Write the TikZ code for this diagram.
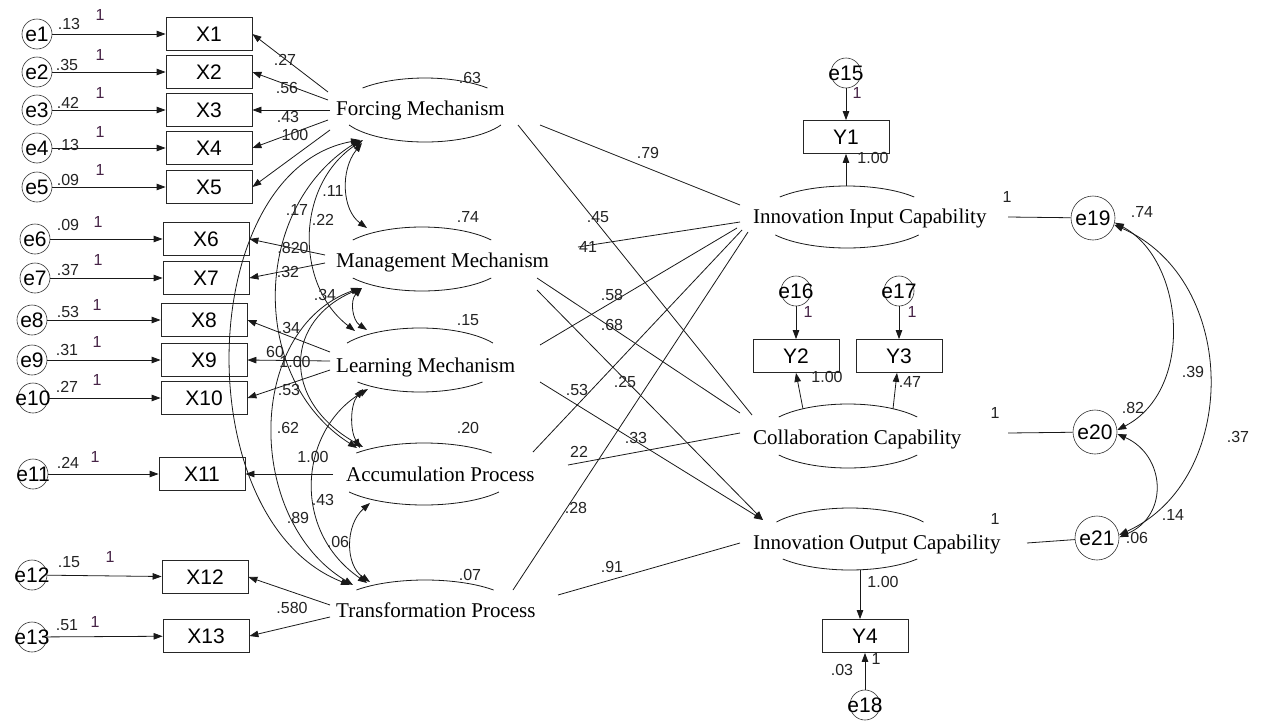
\documentclass[tikz,border=0pt]{standalone}
\usepackage{fontspec}
\setmainfont{Liberation Serif}
\newfontfamily\labfont{Liberation Sans}
\usetikzlibrary{arrows.meta,calc}
\definecolor{labc}{RGB}{35,35,35}
\definecolor{onec}{RGB}{70,35,70}
\tikzset{
  conn/.style={line width=0.8pt,draw=black!90},
  arr/.style={conn,-{Triangle[length=9pt,width=6.5pt]}},
  darr/.style={conn,{Triangle[length=9pt,width=6.5pt]}-{Triangle[length=9pt,width=6.5pt]}},
  errc/.style={circle,draw=black!80,line width=0.6pt,minimum size=30pt,inner sep=0pt},
  bige/.style={circle,draw=black!80,line width=0.6pt,minimum size=44pt,inner sep=0pt},
  etxt/.style={font=\labfont\fontsize{21}{21}\selectfont,inner sep=0pt},
  obs/.style={rectangle,draw=black!85,line width=0.8pt,minimum width=86pt,minimum height=33pt,inner sep=0pt,font=\labfont\fontsize{21}{21}\selectfont},
  lattxt/.style={font=\fontsize{21}{25}\selectfont,inner sep=0pt,anchor=base west},
  lab/.style={font=\labfont\fontsize{16}{16}\selectfont,inner sep=0pt,text=labc},
  one/.style={lab,text=onec},
}
\newcommand\lattop[4]{\pgfmathsetmacro\tsa{180-#4}%
  \draw[conn] ($(#1)+(\tsa:#2pt and #3pt)$) arc[start angle=\tsa,end angle=#4,x radius=#2pt,y radius=#3pt];}
\newcommand\latbot[4]{\pgfmathsetmacro\bsa{180+#4}\pgfmathsetmacro\bea{360-#4}%
  \draw[conn] ($(#1)+(\bsa:#2pt and #3pt)$) arc[start angle=\bsa,end angle=\bea,x radius=#2pt,y radius=#3pt];}
\begin{document}
\begin{tikzpicture}[x=1pt,y=-1pt]
\useasboundingbox[fill=white] (0,0) rectangle (1264,723);

% ---------- observed indicators ----------
\node[obs] (X1) at (209,34) {X1};
\node[obs] (X2) at (209,72) {X2};
\node[obs] (X3) at (209,110) {X3};
\node[obs] (X4) at (209,148) {X4};
\node[obs] (X5) at (209,187) {X5};
\node[obs] (X6) at (206,239) {X6};
\node[obs] (X7) at (206,278) {X7};
\node[obs] (X8) at (204,320) {X8};
\node[obs] (X9) at (204,360) {X9};
\node[obs] (X10) at (204,398) {X10};
\node[obs] (X11) at (202,474) {X11};
\node[obs] (X12) at (205,577) {X12};
\node[obs] (X13) at (206,636) {X13};
\node[obs] (Y1) at (846,137) {Y1};
\node[obs] (Y2) at (796,356) {Y2};
\node[obs] (Y3) at (899,356) {Y3};
\node[obs] (Y4) at (865,636) {Y4};

% ---------- error terms ----------
\node[errc,label={[etxt]center:e1}] (e1) at (37,34) {};
\node[errc,label={[etxt]center:e2}] (e2) at (37,72) {};
\node[errc,label={[etxt]center:e3}] (e3) at (37,110) {};
\node[errc,label={[etxt]center:e4}] (e4) at (37,148) {};
\node[errc,label={[etxt]center:e5}] (e5) at (37,187) {};
\node[errc,label={[etxt]center:e6}] (e6) at (35,239) {};
\node[errc,label={[etxt]center:e7}] (e7) at (35,278) {};
\node[errc,label={[etxt]center:e8}] (e8) at (32,320) {};
\node[errc,label={[etxt]center:e9}] (e9) at (32,360) {};
\node[errc,label={[etxt]center:e10}] (e10) at (33,398) {};
\node[errc,label={[etxt]center:e11}] (e11) at (33,474) {};
\node[errc,label={[etxt]center:e12}] (e12) at (32,575) {};
\node[errc,label={[etxt]center:e13}] (e13) at (32,637) {};
\node[errc,label={[etxt]center:e15}] (e15) at (846,73) {};
\node[errc,label={[etxt]center:e16}] (e16) at (796,291) {};
\node[errc,label={[etxt]center:e17}] (e17) at (899,291) {};
\node[errc,label={[etxt]center:e18}] (e18) at (865,705) {};
\node[bige,label={[etxt]center:e19}] (e19) at (1093,218) {};
\node[bige,label={[etxt]center:e20}] (e20) at (1095,432) {};
\node[bige,label={[etxt]center:e21}] (e21) at (1097,538) {};

% ---------- latent variables ----------
\coordinate (FM) at (425,110);
\coordinate (MM) at (422,259);
\coordinate (LM) at (420,360);
\coordinate (AP) at (424,474);
\coordinate (TP) at (425,610);
\coordinate (IIC) at (847,217);
\coordinate (CC) at (848,436);
\coordinate (IOC) at (850,539);
\lattop{FM}{86}{32}{43.4} \latbot{FM}{86}{32}{28}
\lattop{MM}{86}{32}{36.4} \latbot{MM}{86}{32}{36.4}
\lattop{LM}{86}{32}{32} \latbot{LM}{86}{32}{43.4}
\lattop{AP}{92}{31}{42.6} \latbot{AP}{92}{31}{35.5}
\lattop{TP}{92}{30}{41.8}
\lattop{IIC}{88}{31}{40.2} \latbot{IIC}{88}{31}{35.5}
\lattop{CC}{86}{32}{36.4} \latbot{CC}{86}{32}{36.4}
\lattop{IOC}{88}{31}{33.3} \latbot{IOC}{88}{31}{40.2}
\node[lattxt] (FMt) at (336,115) {Forcing Mechanism};
\node[lattxt] (MMt) at (336,267) {Management Mechanism};
\node[lattxt] (LMt) at (336,372) {Learning Mechanism};
\node[lattxt] (APt) at (346,481) {Accumulation Process};
\node[lattxt] (TPt) at (336,617) {Transformation Process};
\node[lattxt] (IICt) at (753,223) {Innovation Input Capability};
\node[lattxt] (CCt) at (753,444) {Collaboration Capability};
\node[lattxt] (IOCt) at (753,549) {Innovation Output Capability};

% ---------- error -> indicator ----------
\foreach \i in {1,...,13} {\draw[arr] (e\i) -- (X\i);}
\draw[arr] (e15) -- (Y1);
\draw[arr] (e16) -- (Y2);
\draw[arr] (e17) -- (Y3);
\draw[arr] (e18) -- (Y4);

% ---------- loadings ----------
\draw[arr] ($(FM)+(-97,-18)$) -- (X1.east);
\draw[arr] ($(FM)+(-97,-10)$) -- (X2.east);
\draw[arr] ($(FM)+(-95,0)$) -- (X3.east);
\draw[arr] ($(FM)+(-97,10)$) -- (X4.east);
\draw[arr] ($(FM)+(-95,20)$) -- (X5.east);
\draw[arr] ($(MM)+(-97,-4)$) -- (X6.east);
\draw[arr] ($(MM)+(-97,4)$) -- (X7.east);
\draw[arr] ($(LM)+(-90,-8)$) -- (X8.east);
\draw[arr] ($(LM)+(-90,1)$) -- (X9.east);
\draw[arr] ($(LM)+(-90,10)$) -- (X10.east);
\draw[arr] ($(AP)+(-91,0)$) -- (X11.east);
\draw[arr] ($(TP)+(-95,-5)$) -- (X12.east);
\draw[arr] ($(TP)+(-95,7)$) -- (X13.east);
\draw[arr] ($(IIC)+(-1,-31)$) -- (Y1.south);
\draw[arr] ($(CC)+(-45,-27)$) -- (Y2.south);
\draw[arr] ($(CC)+(45,-27)$) -- ($(Y3.south)+(-2,0)$);
\draw[arr] ($(IOC)+(10,31)$) -- ($(Y4.north)+(-5,0)$);

% ---------- latent covariances ----------
\draw[darr] ($(FM)+(-63,33)$) .. controls (340,170) and (342,210) .. ($(MM)+(-55,-31)$);
\draw[darr] ($(FM)+(-62,30)$) .. controls (295,185) and (295,285) .. ($(LM)+(-65,-29)$);
\draw[darr] ($(FM)+(-65,30)$) .. controls (250,210) and (250,380) .. ($(AP)+(-67,-26)$);
\draw[darr] ($(FM)+(-65,30)$) .. controls (195,170) and (185,520) .. ($(TP)+(-75,-25)$);
\draw[darr] ($(MM)+(-60,29)$) .. controls (350,300) and (352,320) .. ($(LM)+(-53,-30)$);
\draw[darr] ($(MM)+(-60,29)$) .. controls (285,320) and (280,400) .. ($(AP)+(-61,-27)$);
\draw[darr] ($(MM)+(-62,29)$) .. controls (245,330) and (245,520) .. ($(TP)+(-72,-25)$);
\draw[darr] ($(LM)+(-57,29)$) .. controls (350,405) and (350,430) .. ($(AP)+(-64,-26)$);
\draw[darr] ($(LM)+(-52,29)$) .. controls (300,430) and (290,530) .. ($(TP)+(-58,-27)$);
\draw[darr] ($(AP)+(-54,29)$) .. controls (345,525) and (345,565) .. ($(TP)+(-55,-28)$);

% ---------- structural paths ----------
\draw[conn] ($(FM)+(115,15)$) -- ($(IIC)+(-107,-12)$);
\draw[conn] ($(FM)+(93,15)$) -- ($(CC)+(-96,-21)$);
\draw[conn] ($(MM)+(156,-12)$) -- ($(IIC)+(-107,5)$);
\draw[conn] ($(MM)+(115,19)$) -- ($(CC)+(-108,-23)$);
\draw[arr] ($(MM)+(115,31)$) -- ($(IOC)+(-87,-19)$);
\draw[conn] ($(LM)+(120,-15)$) -- ($(IIC)+(-110,11)$);
\draw[arr] ($(LM)+(120,22)$) -- ($(IOC)+(-87,-19)$);
\draw[conn] ($(AP)+(109,-22)$) -- ($(IIC)+(-105,13)$);
\draw[conn] ($(AP)+(144,-9)$) -- ($(CC)+(-108,-3)$);
\draw[conn] ($(TP)+(88,-20)$) -- ($(IIC)+(-99,15)$);
\draw[conn] ($(TP)+(133,-15)$) -- ($(IOC)+(-110,4)$);

% ---------- disturbances ----------
\draw[conn] ($(IIC)+(161,0)$) -- (e19);
\draw[conn] ($(CC)+(160,-3)$) -- (e20);
\draw[conn] ($(IOC)+(177,4)$) -- (e21);
\draw[darr] (e19.-12) .. controls (1185,260) and (1195,390) .. (e20.5);
\draw[darr] (e19.-18) .. controls (1240,280) and (1240,480) .. (e21.8);
\draw[darr] (e20.-5) .. controls (1165,455) and (1170,515) .. (e21.2);

% ---------- error variances and fixed loadings ----------
\node[lab] (v1) at (69,24) {.13};  \node[one] (o1) at (100,15) {1};
\node[lab] (v2) at (67,65) {.35};  \node[one] (o2) at (100,55) {1};
\node[lab] (v3) at (68,103) {.42}; \node[one] (o3) at (100,93) {1};
\node[lab] (v4) at (68,145) {.13}; \node[one] (o4) at (100,132) {1};
\node[lab] (v5) at (68,180) {.09}; \node[one] (o5) at (100,170) {1};
\node[lab] (v6) at (68,225) {.09}; \node[one] (o6) at (98,222) {1};
\node[lab] (v7) at (68,270) {.37}; \node[one] (o7) at (98,260) {1};
\node[lab] (v8) at (68,312) {.53}; \node[one] (o8) at (97,305) {1};
\node[lab] (v9) at (67,350) {.31}; \node[one] (o9) at (97,342) {1};
\node[lab] (v10) at (67,387) {.27}; \node[one] (o10) at (97,380) {1};
\node[lab] (v11) at (68,463) {.24}; \node[one] (o11) at (95,457) {1};
\node[lab] (v12) at (69,562) {.15}; \node[one] (o12) at (110,557) {1};
\node[lab] (v13) at (67,625) {.51}; \node[one] (o13) at (95,622) {1};

% ---------- loading estimates ----------
\node[lab] (w1) at (285,60) {.27};
\node[lab] (w2) at (287,88) {.56};
\node[lab] (w3) at (288,117) {.43};
\node[lab] (w4) at (295,135) {100};
\node[lab] (w6) at (293,248) {.820};
\node[lab] (w7) at (288,272) {.32};
\node[lab] (w8) at (289,328) {.34};
\node[lab] (w9a) at (275,352) {60};
\node[lab] (w9b) at (295,362) {1.00};
\node[lab] (w10) at (289,390) {.53};
\node[lab] (w11) at (313,457) {1.00};
\node[lab] (w12) at (292,608) {.580};

% ---------- latent variances ----------
\node[lab] (s1) at (470,78) {.63};
\node[lab] (s2) at (468,217) {.74};
\node[lab] (s3) at (468,320) {.15};
\node[lab] (s4) at (468,428) {.20};
\node[lab] (s5) at (470,575) {.07};

% ---------- covariance estimates ----------
\node[lab] (c1) at (333,191) {.11};
\node[lab] (c2) at (297,210) {.17};
\node[lab] (c3) at (323,220) {.22};
\node[lab] (c4) at (325,295) {.34};
\node[lab] (c5) at (288,428) {.62};
\node[lab] (c6) at (323,500) {.43};
\node[lab] (c7) at (298,518) {.89};
\node[lab] (c8) at (338,542) {.06};

% ---------- path estimates ----------
\node[lab] (p1) at (648,153) {.79};
\node[lab] (p2) at (598,217) {.45};
\node[lab] (p3) at (588,247) {41};
\node[lab] (p4) at (612,295) {.58};
\node[lab] (p5) at (612,325) {.68};
\node[lab] (p6) at (625,382) {.25};
\node[lab] (p7) at (577,390) {.53};
\node[lab] (p8) at (636,438) {.33};
\node[lab] (p9) at (579,452) {22};
\node[lab] (p10) at (576,508) {.28};
\node[lab] (p11) at (612,567) {.91};

% ---------- right side estimates ----------
\node[one] (r1) at (857,93) {1};
\node[lab] (r2) at (873,158) {1.00};
\node[lab] (r3) at (1007,197) {1};
\node[one] (r4) at (808,312) {1};
\node[one] (r5) at (912,312) {1};
\node[lab] (r6) at (827,377) {1.00};
\node[lab] (r7) at (910,382) {.47};
\node[lab] (r8) at (995,413) {1};
\node[lab] (r9) at (995,519) {1};
\node[lab] (r10) at (883,582) {1.00};
\node[lab] (r11) at (842,670) {.03};
\node[lab] (r12) at (876,659) {1};
\node[lab] (r13) at (1142,212) {.74};
\node[lab] (r14) at (1133,408) {.82};
\node[lab] (r15) at (1193,372) {.39};
\node[lab] (r16) at (1238,437) {.37};
\node[lab] (r17) at (1173,515) {.14};
\node[lab] (r18) at (1137,538) {.06};
\end{tikzpicture}
\end{document}
